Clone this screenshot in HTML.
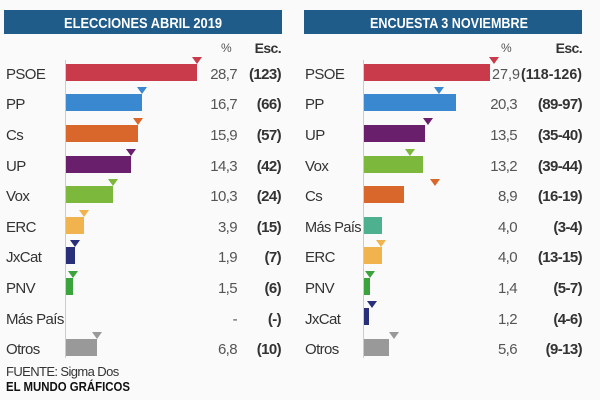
<!DOCTYPE html>
<html><head><meta charset="utf-8"><style>
html,body{margin:0;padding:0;background:#fafafa;}
svg{display:block;font-family:"Liberation Sans",sans-serif;}
.t{letter-spacing:-0.6px;}
</style></head><body>
<svg width="600" height="400" viewBox="0 0 600 400" xmlns="http://www.w3.org/2000/svg">
<rect width="600" height="400" fill="#fafafa"/>
<rect x="4" y="10" width="278" height="24" fill="#1f5c8a"/>
<text x="64" y="28" fill="#fff" font-size="15" font-weight="bold" textLength="158" lengthAdjust="spacingAndGlyphs">ELECCIONES  ABRIL 2019</text>
<rect x="304" y="10" width="278" height="24" fill="#1f5c8a"/>
<text x="370" y="28" fill="#fff" font-size="15" font-weight="bold" textLength="158" lengthAdjust="spacingAndGlyphs">ENCUESTA 3 NOVIEMBRE</text>
<g font-size="14" fill="#333" class="t">
<text x="226" y="52" text-anchor="middle" font-size="12" fill="#555">%</text>
<text x="281" y="53" text-anchor="end" font-weight="bold">Esc.</text>
<text x="506" y="52" text-anchor="middle" font-size="12" fill="#555">%</text>
<text x="582" y="53" text-anchor="end" font-weight="bold">Esc.</text>
</g>
<line x1="65.5" y1="60" x2="65.5" y2="358" stroke="#ccc"/>
<line x1="363.5" y1="60" x2="363.5" y2="358" stroke="#ccc"/>
<!-- left -->
<g font-size="15" fill="#333" class="t">
<text x="6" y="79">PSOE</text><text x="6" y="109">PP</text><text x="6" y="140">Cs</text><text x="6" y="171">UP</text><text x="6" y="201">Vox</text><text x="6" y="232">ERC</text><text x="6" y="262">JxCat</text><text x="6" y="293">PNV</text><text x="6" y="324">Más País</text><text x="6" y="354">Otros</text>
</g>
<g font-size="15" fill="#555" text-anchor="end" class="t">
<text x="237" y="79">28,7</text><text x="237" y="109">16,7</text><text x="237" y="140">15,9</text><text x="237" y="171">14,3</text><text x="237" y="201">10,3</text><text x="237" y="232">3,9</text><text x="237" y="262">1,9</text><text x="237" y="293">1,5</text><text x="237" y="324">-</text><text x="237" y="354">6,8</text>
</g>
<g font-size="15" fill="#333" font-weight="bold" text-anchor="end" class="t">
<text x="281" y="79">(123)</text><text x="281" y="109">(66)</text><text x="281" y="140">(57)</text><text x="281" y="171">(42)</text><text x="281" y="201">(24)</text><text x="281" y="232">(15)</text><text x="281" y="262">(7)</text><text x="281" y="293">(6)</text><text x="281" y="324">(-)</text><text x="281" y="354">(10)</text>
</g>
<rect x="66" y="64" width="131" height="17" fill="#c93a4b"/><polygon points="192,57 202,57 197,64" fill="#c93a4b"/>
<rect x="66" y="94" width="76" height="17" fill="#3a88cf"/><polygon points="137,87 147,87 142,94" fill="#3a88cf"/>
<rect x="66" y="125" width="72" height="17" fill="#d9662b"/><polygon points="133,118 143,118 138,125" fill="#d9662b"/>
<rect x="66" y="156" width="65" height="17" fill="#6a1f6c"/><polygon points="126,149 136,149 131,156" fill="#6a1f6c"/>
<rect x="66" y="186" width="47" height="17" fill="#7bb83b"/><polygon points="108,179 118,179 113,186" fill="#7bb83b"/>
<rect x="66" y="217" width="18" height="17" fill="#f1b34d"/><polygon points="79,210 89,210 84,217" fill="#f1b34d"/>
<rect x="66" y="247" width="9" height="17" fill="#2a2f7a"/><polygon points="70,240 80,240 75,247" fill="#2a2f7a"/>
<rect x="66" y="278" width="7" height="17" fill="#3ba33b"/><polygon points="68,271 78,271 73,278" fill="#3ba33b"/>
<rect x="66" y="339" width="31" height="17" fill="#999"/><polygon points="92,332 102,332 97,339" fill="#999"/>
<!-- right -->
<g font-size="15" fill="#333" class="t">
<text x="305" y="79">PSOE</text><text x="305" y="109">PP</text><text x="305" y="140">UP</text><text x="305" y="171">Vox</text><text x="305" y="201">Cs</text><text x="305" y="232" textLength="56" lengthAdjust="spacingAndGlyphs">Más País</text><text x="305" y="262">ERC</text><text x="305" y="293">PNV</text><text x="305" y="324">JxCat</text><text x="305" y="354">Otros</text>
</g>
<g font-size="15" fill="#555" text-anchor="end" class="t">
<text x="517" y="109">20,3</text><text x="517" y="140">13,5</text><text x="517" y="171">13,2</text><text x="517" y="201">8,9</text><text x="517" y="232">4,0</text><text x="517" y="262">4,0</text><text x="517" y="293">1,4</text><text x="517" y="324">1,2</text><text x="517" y="354">5,6</text>
</g>
<text x="492" y="79" font-size="15" fill="#555" textLength="28" lengthAdjust="spacingAndGlyphs">27,9</text>
<text x="521" y="79" font-size="15" fill="#333" font-weight="bold" textLength="61" lengthAdjust="spacingAndGlyphs">(118-126)</text>
<g font-size="15" fill="#333" font-weight="bold" text-anchor="end" class="t">
<text x="582" y="109">(89-97)</text><text x="582" y="140">(35-40)</text><text x="582" y="171">(39-44)</text><text x="582" y="201">(16-19)</text><text x="582" y="232">(3-4)</text><text x="582" y="262">(13-15)</text><text x="582" y="293">(5-7)</text><text x="582" y="324">(4-6)</text><text x="582" y="354">(9-13)</text>
</g>
<rect x="364" y="64" width="126" height="17" fill="#c93a4b"/><polygon points="489,57 499,57 494,64" fill="#c93a4b"/>
<rect x="364" y="94" width="92" height="17" fill="#3a88cf"/><polygon points="434,87 444,87 439,94" fill="#3a88cf"/>
<rect x="364" y="125" width="61" height="17" fill="#6a1f6c"/><polygon points="423,118 433,118 428,125" fill="#6a1f6c"/>
<rect x="364" y="156" width="59" height="17" fill="#7bb83b"/><polygon points="405,149 415,149 410,156" fill="#7bb83b"/>
<rect x="364" y="186" width="40" height="17" fill="#d9662b"/><polygon points="430,179 440,179 435,186" fill="#d9662b"/>
<rect x="364" y="217" width="18" height="17" fill="#4db18f"/>
<rect x="364" y="247" width="18" height="17" fill="#f1b34d"/><polygon points="376,240 386,240 381,247" fill="#f1b34d"/>
<rect x="364" y="278" width="6" height="17" fill="#3ba33b"/><polygon points="365,271 375,271 370,278" fill="#3ba33b"/>
<rect x="364" y="308" width="5" height="17" fill="#2a2f7a"/><polygon points="367,301 377,301 372,308" fill="#2a2f7a"/>
<rect x="364" y="339" width="25" height="17" fill="#999"/><polygon points="389,332 399,332 394,339" fill="#999"/>
<text x="6" y="376" font-size="13" fill="#333" class="t">FUENTE: Sigma Dos</text>
<text x="6" y="391" font-size="13" fill="#111" font-weight="bold" textLength="124" lengthAdjust="spacingAndGlyphs">EL MUNDO GRÁFICOS</text>
</svg>
</body></html>
